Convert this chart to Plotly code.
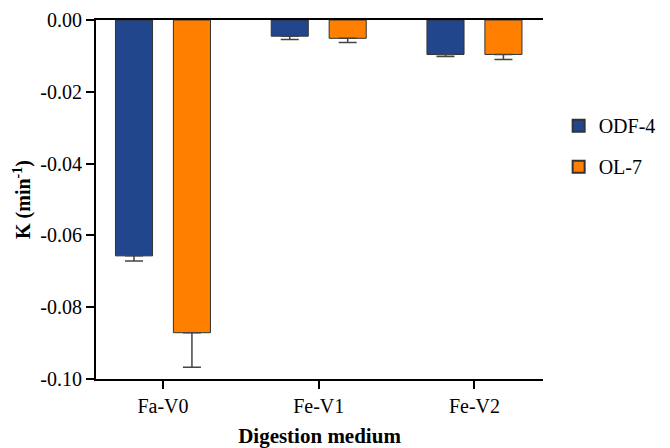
import plotly.graph_objects as go

categories = ["Fa-V0", "Fe-V1", "Fe-V2"]
odf4_values = [-0.0657, -0.0045, -0.0096]
odf4_errors = [0.0014, 0.0009, 0.0006]
ol7_values = [-0.0871, -0.0051, -0.0096]
ol7_errors = [0.0096, 0.0012, 0.0014]
y_ticks = [0.0, -0.02, -0.04, -0.06, -0.08, -0.10]
y_tick_labels = ["0.00", "-0.02", "-0.04", "-0.06", "-0.08", "-0.10"]

font_family = "Liberation Serif, Times New Roman, serif"

fig = go.Figure()
fig.add_trace(go.Bar(
    name="ODF-4", x=categories, y=odf4_values, legendgroup="a",
    marker=dict(color="#21468B", line=dict(color="#333333", width=1)),
    error_y=dict(type="data", symmetric=False, array=[0, 0, 0], arrayminus=odf4_errors,
                 color="#444444", thickness=1.5, width=9),
))
fig.add_trace(go.Bar(
    name="OL-7", x=categories, y=ol7_values, legendgroup="b",
    marker=dict(color="#FF7F00", line=dict(color="#333333", width=1)),
    error_y=dict(type="data", symmetric=False, array=[0, 0, 0], arrayminus=ol7_errors,
                 color="#444444", thickness=1.5, width=9),
))

# page body has an 8px margin, so the figure is drawn 8px right/down
fig.update_layout(
    width=662, height=440,
    margin=dict(l=88, r=127, t=12, b=69, autoexpand=False),
    paper_bgcolor="white", plot_bgcolor="white",
    barmode="group", bargap=0.256, bargroupgap=0.36,
    font=dict(family=font_family, size=20, color="black"),
    showlegend=True,
    legend=dict(x=1.035, y=0.76, xanchor="left", yanchor="top",
                font=dict(size=20), tracegroupgap=12, traceorder="grouped",
                itemsizing="constant", bgcolor="rgba(0,0,0,0)"),
    xaxis=dict(
        range=[-0.43, 2.44], showline=True, linecolor="black", linewidth=2,
        mirror=True, ticks="outside", ticklen=8, tickwidth=2, tickcolor="black",
        showgrid=False, zeroline=False, automargin=False,
        title=dict(text="<b>Digestion medium</b>", font=dict(size=21), standoff=16),
        tickfont=dict(size=20),
    ),
    yaxis=dict(
        range=[-0.10, 0.0], tickvals=y_ticks, ticktext=y_tick_labels,
        showline=True, linecolor="black", linewidth=2,
        ticks="outside", ticklen=8, tickwidth=2, tickcolor="black",
        showgrid=False, zeroline=False, automargin=False,
        title=dict(text="<b>K (min<sup>-1</sup>)</b>", font=dict(size=20), standoff=4),
        tickfont=dict(size=20),
    ),
)

fig.write_html("out.html")
